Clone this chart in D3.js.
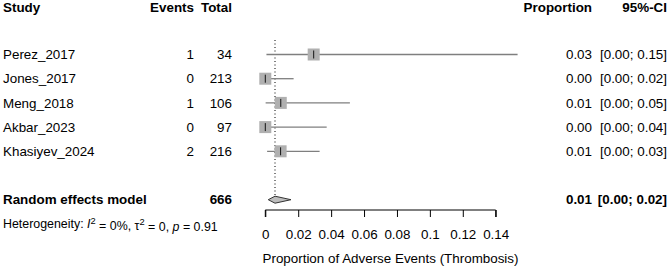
<!DOCTYPE html>
<html><head><meta charset="utf-8">
<script src="https://cdn.jsdelivr.net/npm/d3@7"></script>
<style>body{margin:0;background:#fff}svg{display:block}text{font-family:"Liberation Sans",Arial,sans-serif;}</style>
</head><body>
<svg id="c" width="669" height="269"></svg>
<script>
const studies = ["Perez_2017","Jones_2017","Meng_2018","Akbar_2023","Khasiyev_2024"];
const events = [1,0,1,0,2];
const totals = [34,213,106,97,216];
const props = [0.0294,0,0.0094,0,0.0093];
const ciLower = [0.0007,0,0.0002,0,0.0011];
const ciUpper = [0.1533,0.0172,0.0514,0.0373,0.0330];
const propLabels = ["0.03","0.00","0.01","0.00","0.01"];
const ciLabels = ["[0.00; 0.15]","[0.00; 0.02]","[0.00; 0.05]","[0.00; 0.04]","[0.00; 0.03]"];
const pooled = {label:"Random effects model", total:666, est:0.0059, lo:0.0018, hi:0.0156, propLabel:"0.01", ciLabel:"[0.00; 0.02]"};
const tickValues = [0,0.02,0.04,0.06,0.08,0.10,0.12,0.14];
const tickLabels = ["0","0.02","0.04","0.06","0.08","0.1","0.12","0.14"];
const headers = ["Study","Events","Total","Proportion","95%-CI"];
const xTitle = "Proportion of Adverse Events (Thrombosis)";

const svg = d3.select("#c");
const fs = 13.4;
const x = d3.scaleLinear().domain([0,0.14]).range([265.3,495.7]);
const y = d3.scaleLinear().domain([0,1]).range([54.5,78.7]);
const axisY = 210;

const colStudy = 3, colEvents = 194, colTotal = 232, colProp = 592, colCI = 667;

function txt(xp, yp, s, anchor, bold){
  return svg.append("text").attr("x",xp).attr("y",yp).attr("dy","0.35em")
    .attr("text-anchor",anchor).attr("font-size",fs).attr("font-weight",bold?"bold":"normal")
    .attr("fill","#000").text(s);
}
// headers
const hy = 7.5;
txt(colStudy,hy,headers[0],"start",true);
txt(colEvents,hy,headers[1],"end",true);
txt(colTotal,hy,headers[2],"end",true);
txt(colProp,hy,headers[3],"end",true);
txt(colCI,hy,headers[4],"end",true);

// reference dotted line
svg.append("line").attr("x1",x(pooled.est)).attr("x2",x(pooled.est))
  .attr("y1",40).attr("y2",y(6)-4).attr("stroke","#000").attr("stroke-width",1)
  .attr("stroke-dasharray","1,2.5");

// study rows
studies.forEach((s,i)=>{
  const yy = y(i);
  txt(colStudy,yy,s,"start",false);
  txt(colEvents,yy,events[i],"end",false);
  txt(colTotal,yy,totals[i],"end",false);
  txt(colProp,yy,propLabels[i],"end",false);
  txt(colCI,yy,ciLabels[i],"end",false);
  svg.append("line").attr("x1",x(ciLower[i])).attr("x2",x(ciUpper[i]))
    .attr("y1",yy).attr("y2",yy).attr("stroke","#7f7f7f").attr("stroke-width",1.3);
  svg.append("rect").attr("x",x(props[i])-6).attr("y",yy-6).attr("width",12).attr("height",12)
    .attr("fill","#b0b0b0");
  svg.append("line").attr("x1",x(props[i])).attr("x2",x(props[i]))
    .attr("y1",yy-4).attr("y2",yy+4).attr("stroke","#000").attr("stroke-width",0.9);
});

// pooled row
const py = y(6);
txt(colStudy,py,pooled.label,"start",true);
txt(colTotal,py,pooled.total,"end",true);
txt(colProp,py,pooled.propLabel,"end",true);
txt(colCI,py,pooled.ciLabel,"end",true);
svg.append("path")
  .attr("d",`M${x(pooled.lo)},${py}L${x(pooled.est)},${py-3.5}L${x(pooled.hi)},${py}L${x(pooled.est)},${py+3.5}Z`)
  .attr("fill","#bdbdbd").attr("stroke","#333").attr("stroke-width",1);

// heterogeneity
const het = svg.append("text").attr("x",colStudy).attr("y",y(7)).attr("dy","0.35em")
  .attr("font-size",12.4).attr("fill","#000");
het.append("tspan").text("Heterogeneity: ");
het.append("tspan").attr("font-style","italic").text("I");
het.append("tspan").attr("font-size",9.3).attr("dy","-0.45em").text("2");
het.append("tspan").attr("dy","0.45em").text(" = 0%, \u03C4");
het.append("tspan").attr("font-size",9.3).attr("dy","-0.45em").text("2");
het.append("tspan").attr("dy","0.45em").text(" = 0, ");
het.append("tspan").attr("font-style","italic").text("p");
het.append("tspan").text(" = 0.91");

// axis
const axis = d3.axisBottom(x).tickValues(tickValues).tickSize(7).tickPadding(12)
  .tickFormat((d,i)=>tickLabels[i]);
const g = svg.append("g").attr("transform",`translate(0,${axisY})`).call(axis);
g.select(".domain").attr("d",`M${x(0)},7V0H${x(0.14)}V7`).attr("stroke","#000");
g.selectAll(".tick line").attr("stroke","#000");
g.selectAll(".tick text").attr("font-size",fs).attr("font-family","Liberation Sans, Arial, sans-serif").attr("fill","#000");

svg.append("text").attr("x",(x(0)+x(0.14))/2+10).attr("y",258).attr("dy","0.35em")
  .attr("text-anchor","middle").attr("font-size",fs).attr("fill","#000").text(xTitle);
</script>
</body></html>
